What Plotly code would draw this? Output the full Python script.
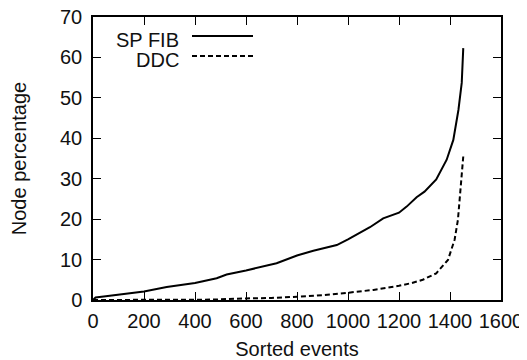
import plotly.graph_objects as go

sp_x = [0, 10, 50, 100, 200, 289, 400, 485, 524, 600, 655, 720, 800, 864, 956,
        1000, 1086, 1138, 1200, 1230, 1269, 1300, 1346, 1387, 1413, 1433, 1446, 1452]
sp_y = [0, 0.6, 0.9, 1.3, 2.1, 3.2, 4.2, 5.4, 6.3, 7.3, 8.1, 9.1, 11.0, 12.2, 13.6,
        15.0, 18.0, 20.2, 21.6, 23.1, 25.4, 26.8, 29.8, 34.7, 39.6, 47, 53.7, 62.3]

ddc_x = [0, 200, 400, 470, 600, 700, 800, 900, 1000, 1100, 1200, 1250, 1293, 1346,
         1392, 1418, 1431, 1441, 1448, 1452]
ddc_y = [0, 0, 0, 0.1, 0.4, 0.5, 0.8, 1.2, 1.8, 2.5, 3.5, 4.2, 5.0, 6.6,
         9.9, 14.9, 19.8, 27.2, 31, 35.5]

x_ticks = [0, 200, 400, 600, 800, 1000, 1200, 1400, 1600]
y_ticks = [0, 10, 20, 30, 40, 50, 60, 70]

FONT = "Liberation Sans, Arial, Helvetica, sans-serif"
FS = 20

fig = go.Figure()
fig.add_trace(go.Scatter(x=sp_x, y=sp_y, mode="lines", name="SP FIB",
                         line=dict(color="black", width=2)))
fig.add_trace(go.Scatter(x=ddc_x, y=ddc_y, mode="lines", name="DDC",
                         line=dict(color="black", width=2, dash="5px,3px")))

axis_common = dict(showgrid=False, zeroline=False, showline=True, linecolor="black",
                   linewidth=1.5, mirror="allticks", ticks="inside", ticklen=8,
                   tickwidth=1, tickcolor="black", automargin=False,
                   ticklabeloverflow="allow",
                   tickfont=dict(family=FONT, size=FS, color="#111111"))

fig.update_xaxes(range=[0, 1600], tickvals=x_ticks, ticklabelstandoff=2,
                 title=dict(text="Sorted events", font=dict(family=FONT, size=FS, color="#111111"),
                            standoff=11),
                 **axis_common)
fig.update_yaxes(range=[0, 70], tickvals=y_ticks, ticklabelstandoff=5,
                 title=dict(text="Node percentage", font=dict(family=FONT, size=FS, color="#111111"),
                            standoff=30),
                 **axis_common)

def px2paper(px, py):
    return (px - 93) / 408, (300 - py) / 283

legend_items = [("SP FIB", 40, 36, None), ("DDC", 60, 56, "5px,3px")]
for label, ty_px, ly_px, dash in legend_items:
    tx, ty = px2paper(181, ty_px)
    fig.add_annotation(x=tx, y=ty, xref="paper", yref="paper", text=label,
                       showarrow=False, xanchor="right", yanchor="middle",
                       font=dict(family=FONT, size=FS, color="#111111"))
    x0, y0 = px2paper(192, ly_px)
    x1, _ = px2paper(253, ly_px)
    line = dict(color="black", width=2)
    if dash:
        line["dash"] = dash
    fig.add_shape(type="line", xref="paper", yref="paper", x0=x0, x1=x1, y0=y0, y1=y0,
                  line=line)

fig.update_layout(width=527, height=360, showlegend=False,
                  margin=dict(l=85, r=34, t=9, b=68, autoexpand=False),
                  plot_bgcolor="white", paper_bgcolor="white")

fig.write_html("out.html")
